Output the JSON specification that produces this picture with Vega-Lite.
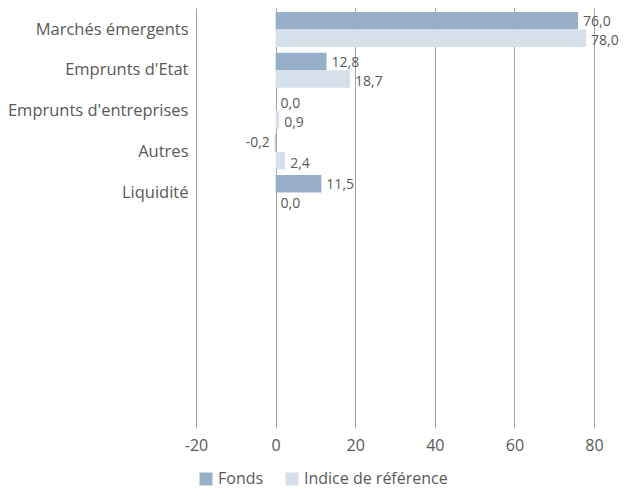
{
  "$schema": "https://vega.github.io/schema/vega-lite/v6.json",
  "autosize": "none",
  "width": 398,
  "height": 420,
  "padding": {"left": 196, "top": 8, "right": 30, "bottom": 60},
  "background": "white",
  "config": {
    "locale": {"number": {"decimal": ",", "thousands": "\u00a0", "grouping": [3], "currency": ["", " €"], "minus": "-"}},
    "font": "Open Sans",
    "view": {"stroke": null},
    "axis": {"labelColor": "#595959", "labelFont": "Open Sans"}
  },
  "data": {"values": [
    {"categorie": "Marchés émergents", "serie": "Fonds", "valeur": 76.0},
    {"categorie": "Marchés émergents", "serie": "Indice de référence", "valeur": 78.0},
    {"categorie": "Emprunts d'Etat", "serie": "Fonds", "valeur": 12.8},
    {"categorie": "Emprunts d'Etat", "serie": "Indice de référence", "valeur": 18.7},
    {"categorie": "Emprunts d'entreprises", "serie": "Fonds", "valeur": 0.0},
    {"categorie": "Emprunts d'entreprises", "serie": "Indice de référence", "valeur": 0.9},
    {"categorie": "Autres", "serie": "Fonds", "valeur": -0.2},
    {"categorie": "Autres", "serie": "Indice de référence", "valeur": 2.4},
    {"categorie": "Liquidité", "serie": "Fonds", "valeur": 11.5},
    {"categorie": "Liquidité", "serie": "Indice de référence", "valeur": 0.0}
  ]},
  "encoding": {
    "y": {
      "field": "categorie", "type": "nominal",
      "scale": {"domain": ["Marchés émergents", "Emprunts d'Etat", "Emprunts d'entreprises", "Autres", "Liquidité", "_1", "_2", "_3", "_4", "_5"], "paddingInner": 0.141, "paddingOuter": 0.224, "align": 0.22},
      "axis": {"title": null, "domain": false, "ticks": false, "grid": false, "labelFontSize": 16.5, "labelPadding": 8, "labelLimit": 400, "labelExpr": "indexof(datum.label, '_') == 0 ? '' : datum.label"}
    },
    "yOffset": {"field": "serie", "type": "nominal", "scale": {"domain": ["Fonds", "Indice de référence"], "paddingInner": 0, "paddingOuter": 0}},
    "x": {
      "field": "valeur", "type": "quantitative",
      "scale": {"domain": [-20, 80], "nice": false, "zero": false},
      "axis": {"title": null, "domain": false, "ticks": false, "values": [-20, 0, 20, 40, 60, 80], "grid": true, "gridColor": "#a6a6a6", "gridWidth": 1, "labelFontSize": 16, "labelPadding": 9, "labelFlush": false, "labelOverlap": false, "format": "d"}
    }
  },
  "layer": [
    {
      "mark": {"type": "bar"},
      "encoding": {
        "color": {
          "field": "serie", "type": "nominal",
          "scale": {"domain": ["Fonds", "Indice de référence"], "range": ["#98afc9", "#d6e0eb"]},
          "legend": {"title": null, "orient": "none", "direction": "horizontal", "legendX": 2, "legendY": 463, "symbolType": "square", "symbolSize": 169, "symbolStrokeWidth": 0, "labelFontSize": 16, "labelColor": "#595959", "labelFont": "Open Sans", "columnPadding": 20, "symbolOffset": 0, "labelOffset": 4}
        }
      }
    },
    {
      "transform": [{"filter": "datum.valeur >= 0 && datum.serie == 'Fonds'"}],
      "mark": {"type": "text", "align": "left", "baseline": "middle", "dx": 5, "dy": 1.5, "fontSize": 14, "color": "#595959"},
      "encoding": {"text": {"field": "valeur", "type": "quantitative", "format": ".1f"}}
    },
    {
      "transform": [{"filter": "datum.valeur >= 0 && datum.serie != 'Fonds'"}],
      "mark": {"type": "text", "align": "left", "baseline": "middle", "dx": 5, "dy": 3, "fontSize": 14, "color": "#595959"},
      "encoding": {"text": {"field": "valeur", "type": "quantitative", "format": ".1f"}}
    },
    {
      "transform": [{"filter": "datum.valeur < 0"}],
      "mark": {"type": "text", "align": "right", "baseline": "middle", "dx": -5, "dy": 0, "fontSize": 14, "color": "#595959"},
      "encoding": {"text": {"field": "valeur", "type": "quantitative", "format": ".1f"}}
    }
  ]
}
